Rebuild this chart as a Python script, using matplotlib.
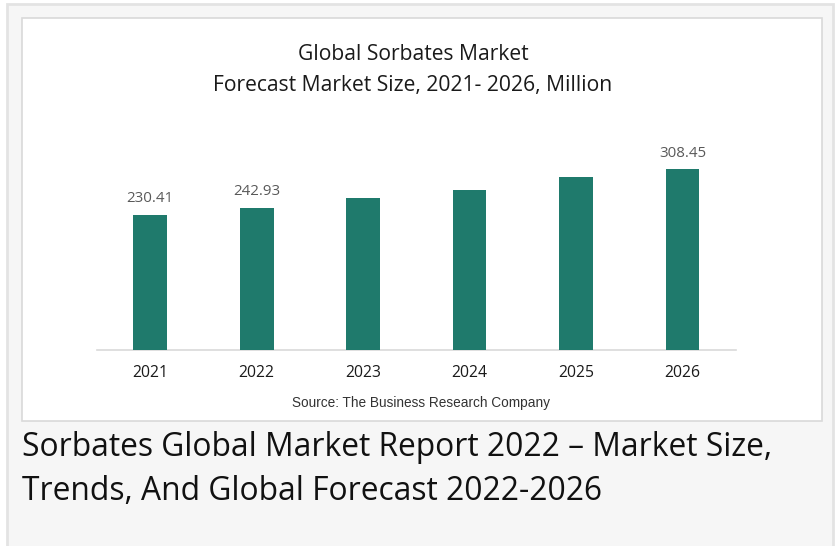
import matplotlib
matplotlib.use("Agg")
import matplotlib.pyplot as plt
from matplotlib.patches import Rectangle

years = ["2021", "2022", "2023", "2024", "2025", "2026"]
market_size = [230.41, 242.93, 259.0, 273.5, 295.2, 308.45]
shown_labels = ["230.41", "242.93", "", "", "", "308.45"]

W, H = 836, 546
BAR_COLOR = "#1f7a6c"


def fx(px):
   return px / W


def fy(py):
   # pixel y from top -> figure fraction from bottom
   return 1 - py / H


fig = plt.figure(figsize=(W / 100, H / 100), dpi=100)
fig.patch.set_facecolor("white")

# outer gray card (bottom edge runs off the canvas) and inner white chart box
fig.patches.append(Rectangle((fx(7), fy(560)), fx(826), fy(4) - fy(560),
                             transform=fig.transFigure, facecolor="#f6f6f6",
                             edgecolor="#e3e3e3", linewidth=2, zorder=0))
fig.patches.append(Rectangle((fx(22), fy(421)), fx(800), fy(18) - fy(421),
                             transform=fig.transFigure, facecolor="white",
                             edgecolor="#d9d9d9", linewidth=1.2, zorder=1))

ax = fig.add_axes([fx(97), fy(350), fx(735.7 - 97), fy(151) - fy(350)])
ax.set_zorder(5)
ax.set_facecolor("none")
x = range(len(years))
bars = ax.bar(x, market_size, width=0.317, color=BAR_COLOR, zorder=3)
ax.set_xlim(-0.5, len(years) - 0.5)
ax.set_ylim(0, 340)

for b, lab in zip(bars, shown_labels):
   if lab:
      ax.text(b.get_x() + b.get_width() / 2, b.get_height() + 15, lab,
              ha="center", va="bottom", fontsize=10.8, color="#595959",
              family="Open Sans")

ax.set_xticks(list(x))
ax.set_xticklabels(years, fontsize=11.3, family="Open Sans", color="#1a1a1a")
ax.tick_params(axis="x", length=0, pad=11)
ax.set_yticks([])
for side in ["top", "left", "right"]:
   ax.spines[side].set_visible(False)
ax.spines["bottom"].set_color("#d9d9d9")
ax.spines["bottom"].set_linewidth(1.2)

fig.text(fx(413), fy(55), "Global Sorbates Market", ha="center", va="center",
         fontsize=15.2, family="Open Sans", color="#1a1a1a")
fig.text(fx(413), fy(85), "Forecast Market Size, 2021- 2026, Million", ha="center",
         va="center", fontsize=15.2, family="Open Sans", color="#1a1a1a")
fig.text(fx(421), fy(403), "Source: The Business Research Company", ha="center",
         va="center", fontsize=9.8, family="Liberation Sans", color="#333333")

fig.text(fx(22), fy(448), "Sorbates Global Market Report 2022 \u2013 Market Size,",
         ha="left", va="center", fontsize=22.9, family="Open Sans", color="#111111")
fig.text(fx(22), fy(492), "Trends, And Global Forecast 2022-2026",
         ha="left", va="center", fontsize=22.9, family="Open Sans", color="#111111")

fig.savefig("out.png", dpi=100)
